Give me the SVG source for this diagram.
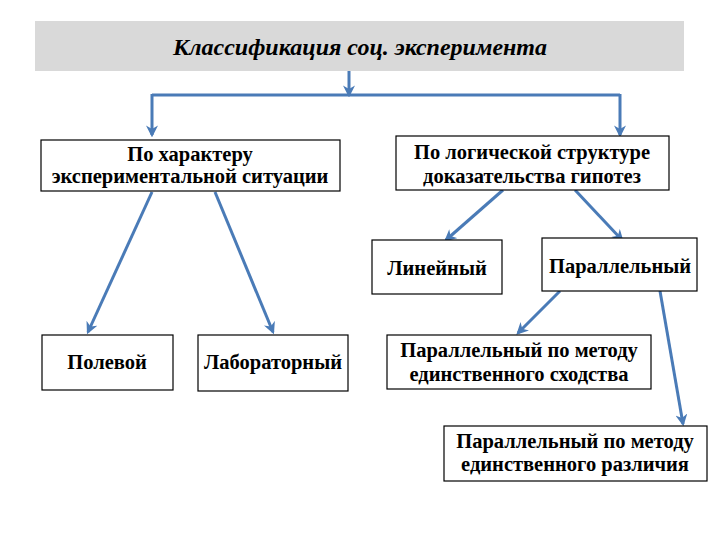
<svg xmlns="http://www.w3.org/2000/svg" width="720" height="540" viewBox="0 0 720 540">
<defs>
<marker id="ah" viewBox="0 0 10 10" refX="8" refY="5" markerWidth="4" markerHeight="4" orient="auto" markerUnits="strokeWidth">
<path d="M0,0 L10,5 L0,10 L3,5 z" fill="#4a7bb7"/>
</marker>
<style>
.box{fill:#fff;stroke:#000;stroke-width:1.2}
.t{font-family:'Liberation Serif','Times New Roman',serif;font-weight:bold;font-size:20.5px;fill:#000;text-anchor:middle}
.ti{font-style:italic;font-size:24px}
.c{fill:none;stroke:#4a7bb7;stroke-width:3}
</style>
</defs>
<rect width="720" height="540" fill="#fff"/>
<g id="title">
<rect x="35" y="21" width="649" height="50" fill="#d9d9d9"/>
<text x="360" y="55" class="t ti">Классификация соц. эксперимента</text>
</g>
<g id="connectors">
<path class="c" d="M349,71 V95" marker-end="url(#ah)"/>
<path class="c" d="M152,95 H620"/>
<path class="c" d="M152,94 V135" marker-end="url(#ah)"/>
<path class="c" d="M620,94 V135" marker-end="url(#ah)"/>
<path class="c" d="M152,192 L88,332" marker-end="url(#ah)"/>
<path class="c" d="M215,192 L273,332" marker-end="url(#ah)"/>
<path class="c" d="M503,190 L446,240" marker-end="url(#ah)"/>
<path class="c" d="M575,190 L622,240" marker-end="url(#ah)"/>
<path class="c" d="M560,291 L518,333" marker-end="url(#ah)"/>
<path class="c" d="M660,291 L683,424" marker-end="url(#ah)"/>
</g>
<g id="n1">
<rect class="box" x="41" y="140" width="299" height="51"/>
<text class="t" x="190" y="161">По характеру</text>
<text class="t" x="190" y="183">экспериментальной ситуации</text>
</g>
<g id="n2">
<rect class="box" x="396" y="136" width="273" height="54"/>
<text class="t" x="532" y="159">По логической структуре</text>
<text class="t" x="532" y="183">доказательства гипотез</text>
</g>
<g id="n3">
<rect class="box" x="372" y="240" width="130" height="54"/>
<text class="t" x="437" y="275">Линейный</text>
</g>
<g id="n4">
<rect class="box" x="542" y="238" width="155" height="53"/>
<text class="t" x="620" y="273">Параллельный</text>
</g>
<g id="n5">
<rect class="box" x="42" y="335" width="131" height="55"/>
<text class="t" x="107" y="369">Полевой</text>
</g>
<g id="n6">
<rect class="box" x="198" y="335" width="150" height="56"/>
<text class="t" x="273" y="369">Лабораторный</text>
</g>
<g id="n7">
<rect class="box" x="387" y="335" width="264" height="54"/>
<text class="t" x="519" y="357">Параллельный по методу</text>
<text class="t" x="519" y="381">единственного сходства</text>
</g>
<g id="n8">
<rect class="box" x="444" y="426" width="263" height="55"/>
<text class="t" x="575" y="448">Параллельный по методу</text>
<text class="t" x="575" y="471">единственного различия</text>
</g>
</svg>
